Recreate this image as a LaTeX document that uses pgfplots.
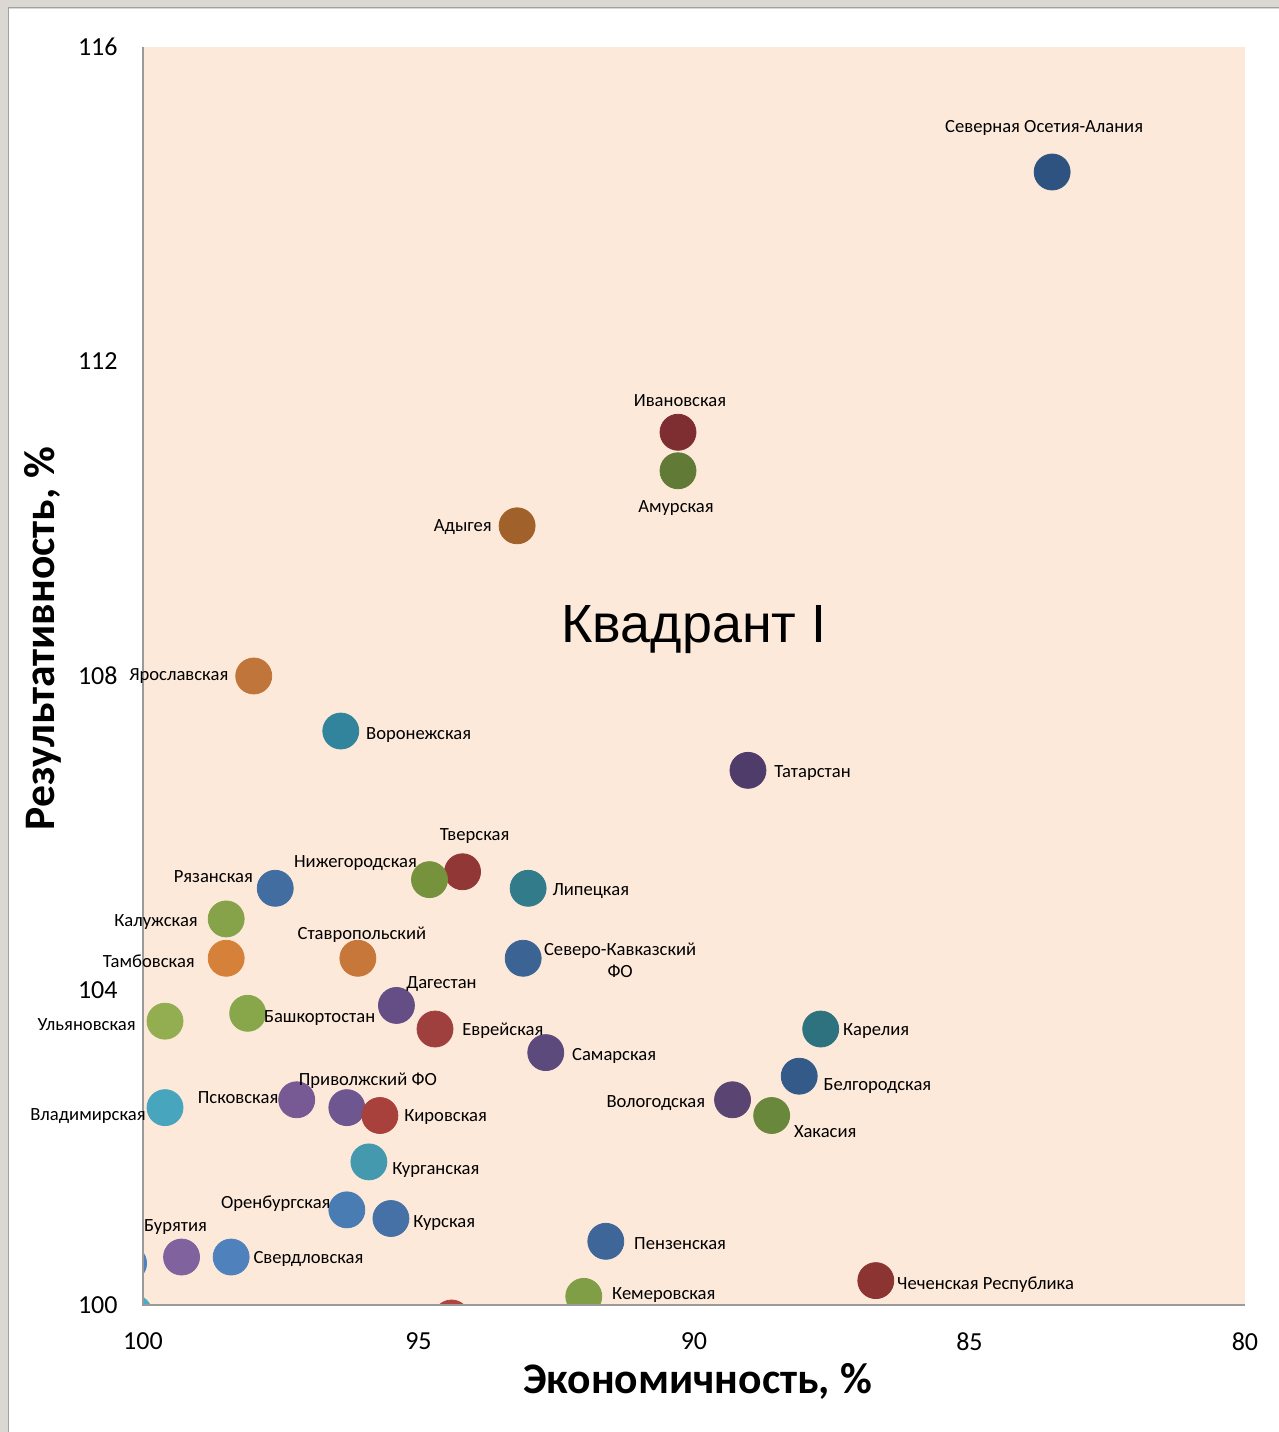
\documentclass[border=0pt]{standalone}
\usepackage{fontspec}
\setmainfont{Carlito}
\newfontfamily\arialfont{Liberation Sans}
\usepackage{pgfplots}
\pgfplotsset{compat=1.18}
\definecolor{peach}{HTML}{FDE9D9}
\definecolor{framegray}{HTML}{DBD7D2}
\definecolor{framedark}{HTML}{A0A0A0}
\definecolor{axgray}{HTML}{9A9A9A}
\definecolor{cA}{HTML}{2F5380}
\definecolor{cB}{HTML}{7E2E30}
\definecolor{cC}{HTML}{617A35}
\definecolor{cD}{HTML}{A1612A}
\definecolor{cE}{HTML}{C0763A}
\definecolor{cF}{HTML}{31849B}
\definecolor{cG}{HTML}{4F3C6B}
\definecolor{cH}{HTML}{913836}
\definecolor{cI}{HTML}{76923C}
\definecolor{cJ}{HTML}{426DA0}
\definecolor{cK}{HTML}{327B8B}
\definecolor{cL}{HTML}{86A34A}
\definecolor{cM}{HTML}{D68139}
\definecolor{cN}{HTML}{C8773A}
\definecolor{cO}{HTML}{3B6494}
\definecolor{cP}{HTML}{654E85}
\definecolor{cQ}{HTML}{92AE50}
\definecolor{cR}{HTML}{88A74B}
\definecolor{cS}{HTML}{A0403E}
\definecolor{cT}{HTML}{2E7280}
\definecolor{cU}{HTML}{5D4A7C}
\definecolor{cV}{HTML}{335A88}
\definecolor{cW}{HTML}{5A4472}
\definecolor{cX}{HTML}{6A883C}
\definecolor{cY}{HTML}{775A93}
\definecolor{cZ}{HTML}{6E5690}
\definecolor{da}{HTML}{A8403C}
\definecolor{db}{HTML}{47A5BE}
\definecolor{dc}{HTML}{4499AE}
\definecolor{dd}{HTML}{4A7CB4}
\definecolor{de}{HTML}{4571A7}
\definecolor{df}{HTML}{3E6698}
\definecolor{dg}{HTML}{80629E}
\definecolor{dh}{HTML}{4F81BD}
\definecolor{di}{HTML}{8B3432}
\definecolor{dj}{HTML}{7F9E45}
\definecolor{dk}{HTML}{B0433F}
\definecolor{dl}{HTML}{4BACC6}
\newcommand\regpt[3]{\addplot[only marks, mark=*, mark size=9pt, color=#3, mark options={fill=#3, draw=#3}] coordinates {(#1,#2)};}
% edge point: centre lies just outside the axis; placed at the edge and shifted by the remainder
\newcommand\edgept[5]{\addplot[only marks, mark=*, mark size=9pt, color=#3, mark options={fill=#3, draw=#3, xshift=#4pt, yshift=#5pt}] coordinates {(#1,#2)};}
\newcommand\lab[6]{\node[anchor=#5, inner sep=0pt, align=center, font=\fontsize{9.3}{11}\selectfont] at ([xshift=#3pt,yshift=#4pt]axis cs:#1,#2) {#6};}
\begin{document}
\begin{tikzpicture}
\useasboundingbox (0,0) rectangle (639.5pt,716pt);
\fill[framegray] (0,0) rectangle (639.5pt,716pt);
\fill[white] (4.25pt,0) rectangle (639.5pt,711.5pt);
\draw[framedark, line width=0.5pt] (4pt,0) -- (4pt,712pt) -- (639.5pt,712pt);
\begin{axis}[
  at={(71.5pt,63.5pt)}, anchor=south west,
  scale only axis, width=551pt, height=629pt,
  xmin=80, xmax=100, ymin=100, ymax=116,
  x dir=reverse,
  clip mode=individual,
  clip marker paths=true,
  axis line style={draw=none},
  axis background/.style={fill=peach},
  xtick={80,85,90,95,100}, ytick={100,104,108,112,116},
  major tick length=0pt,
  /pgf/number format/assume math mode=true,
  ticklabel style={font=\fontsize{13}{15}\selectfont, inner sep=0pt},
  yticklabel style={xshift=-12.5pt},
  xticklabel style={yshift=-13.5pt},
  xlabel={Экономичность, \%},
  ylabel={Результативность, \%},
  xlabel style={at={(axis description cs:0.5032,-0.070)}, anchor=base, font=\bfseries\fontsize{21.8}{26}\selectfont},
  ylabel style={at={(axis description cs:-0.0799,0.5298)}, anchor=base, font=\bfseries\fontsize{21.8}{26}\selectfont},
]
\regpt{83.50}{114.41}{cA}
\regpt{90.29}{111.10}{cB}
\regpt{90.29}{110.61}{cC}
\regpt{93.21}{109.91}{cD}
\regpt{97.99}{108.00}{cE}
\regpt{96.41}{107.30}{cF}
\regpt{89.02}{106.80}{cG}
\regpt{94.20}{105.51}{cH}
\regpt{94.80}{105.41}{cI}
\regpt{97.60}{105.30}{cJ}
\regpt{93.01}{105.30}{cK}
\regpt{98.49}{104.91}{cL}
\regpt{98.49}{104.41}{cM}
\regpt{96.10}{104.41}{cN}
\regpt{93.10}{104.41}{cO}
\regpt{95.40}{103.81}{cP}
\regpt{99.60}{103.61}{cQ}
\regpt{98.10}{103.71}{cR}
\regpt{94.70}{103.51}{cS}
\regpt{87.70}{103.51}{cT}
\regpt{92.69}{103.21}{cU}
\regpt{88.09}{102.91}{cV}
\regpt{89.30}{102.61}{cW}
\regpt{88.59}{102.41}{cX}
\regpt{97.21}{102.61}{cY}
\regpt{96.30}{102.51}{cZ}
\regpt{95.70}{102.41}{da}
\regpt{99.60}{102.51}{db}
\regpt{95.90}{101.82}{dc}
\regpt{96.30}{101.21}{dd}
\regpt{95.50}{101.10}{de}
\regpt{91.60}{100.81}{df}
\regpt{99.30}{100.61}{dg}
\regpt{98.40}{100.61}{dh}
\regpt{86.70}{100.31}{di}
\regpt{92.00}{100.11}{dj}
\edgept{94.40}{100}{dk}{0}{-6.5}
\edgept{100}{100.53}{dh}{-7.2}{0}
\edgept{100}{100}{dl}{-4.5}{-4}
\draw[axgray, line width=0.75pt] (axis description cs:0,1) -- (axis description cs:0,0) -- (axis description cs:1,0);
\lab{83.50}{114.41}{-4}{22}{center}{Северная Осетия-Алания}
\lab{90.29}{111.10}{1}{16}{center}{Ивановская}
\lab{90.29}{110.61}{-1}{-18.5}{center}{Амурская}
\lab{93.21}{109.91}{-12.5}{-0.5}{east}{Адыгея}
\lab{97.99}{108.00}{-12.5}{0}{east}{Ярославская}
\lab{96.41}{107.30}{12.5}{-2}{west}{Воронежская}
\lab{89.02}{106.80}{13}{-1.5}{west}{Татарстан}
\lab{94.20}{105.51}{6}{18}{center}{Тверская}
\lab{94.80}{105.41}{-37}{8.5}{center}{Нижегородская}
\lab{97.60}{105.30}{-11}{6}{east}{Рязанская}
\lab{93.01}{105.30}{12}{-1.5}{west}{Липецкая}
\lab{98.49}{104.91}{-14}{-1.5}{east}{Калужская}
\lab{98.49}{104.41}{-15.5}{-1.5}{east}{Тамбовская}
\lab{96.10}{104.41}{2}{12}{center}{Ставропольский}
\lab{93.10}{104.41}{48.5}{-1}{center}{Северо-Кавказский\\ФО}
\lab{95.40}{103.81}{22.5}{10.5}{center}{Дагестан}
\lab{99.60}{103.61}{-14.5}{-1.5}{east}{Ульяновская}
\lab{98.10}{103.71}{8}{-2.5}{west}{Башкортостан}
\lab{94.70}{103.51}{13.5}{-1}{west}{Еврейская}
\lab{87.70}{103.51}{11}{-1}{west}{Карелия}
\lab{92.69}{103.21}{13}{-1.5}{west}{Самарская}
\lab{88.09}{102.91}{12}{-5}{west}{Белгородская}
\lab{89.30}{102.61}{-13.5}{-1.5}{east}{Вологодская}
\lab{88.59}{102.41}{11}{-8}{west}{Хакасия}
\lab{97.21}{102.61}{-9}{1}{east}{Псковская}
\lab{96.30}{102.51}{10.5}{13.5}{center}{Приволжский ФО}
\lab{95.70}{102.41}{12}{-1}{west}{Кировская}
\lab{99.60}{102.51}{-9.5}{-4}{east}{Владимирская}
\lab{95.90}{101.82}{11.5}{-4}{west}{Курганская}
\lab{96.30}{101.21}{-8}{3}{east}{Оренбургская}
\lab{95.50}{101.10}{11}{-2.5}{west}{Курская}
\lab{91.60}{100.81}{14}{-1}{west}{Пензенская}
\lab{99.30}{100.61}{-3}{15}{center}{Бурятия}
\lab{98.40}{100.61}{11}{-1}{west}{Свердловская}
\lab{86.70}{100.31}{10.5}{-2}{west}{Чеченская Республика}
\lab{92.00}{100.11}{14}{0.5}{west}{Кемеровская}
\node[anchor=base, inner sep=0pt, font=\arialfont\fontsize{26.9}{31}\selectfont] at (axis description cs:0.5,0.527) {Квадрант I};
\end{axis}
\end{tikzpicture}
\end{document}
